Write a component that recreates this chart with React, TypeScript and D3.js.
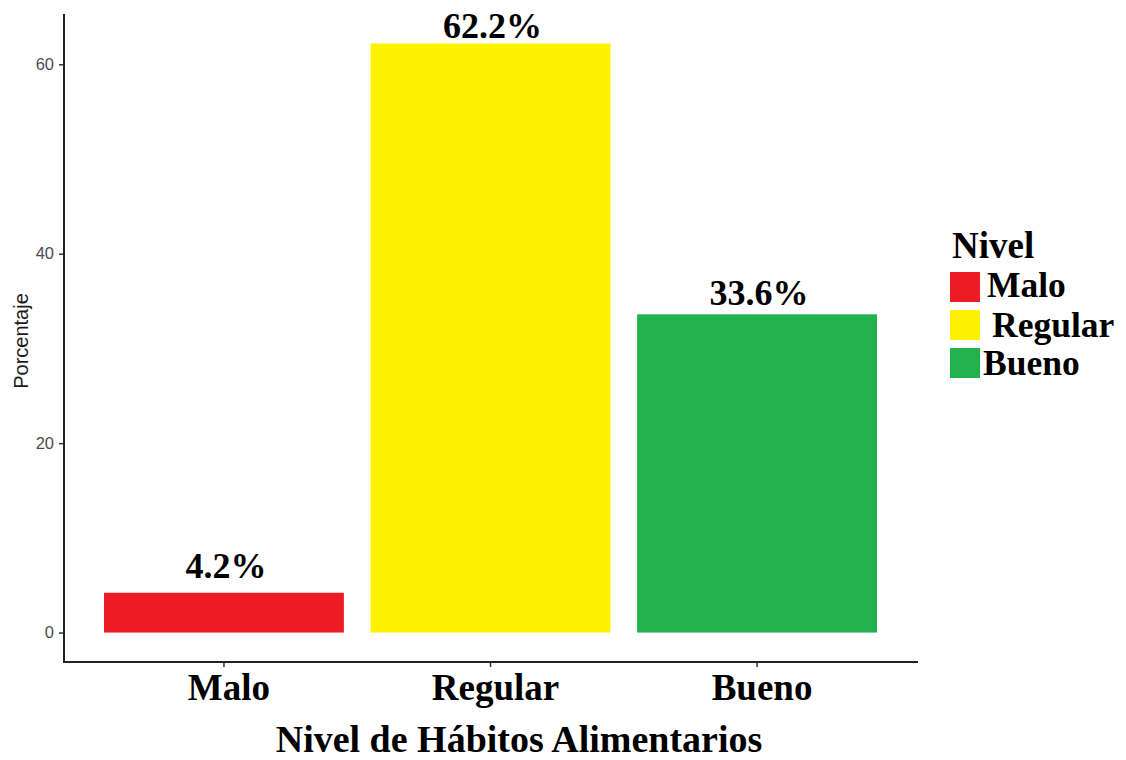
import React, { useEffect, useRef } from 'react';
import * as d3 from 'd3';

const categories = ['Malo', 'Regular', 'Bueno'];
const percentages = [4.2, 62.2, 33.6];
const barColors = ['#ED1C24', '#FFF200', '#22B14C'];
const yTicks = [0, 20, 40, 60];

const serif = '"Liberation Serif", "Times New Roman", serif';
const sans = '"Liberation Sans", Arial, sans-serif';

function App() {
  const ref = useRef<SVGSVGElement | null>(null);

  useEffect(() => {
    const width = 1126;
    const height = 760;
    const panel = { left: 64, right: 917, top: 14, bottom: 662 };

    const svg = d3.select(ref.current);
    svg.selectAll('*').remove();
    svg.attr('width', width).attr('height', height);

    const x = d3.scaleBand<string>()
      .domain(categories)
      .range([panel.left, panel.right])
      .paddingInner(0.1)
      .paddingOuter(0.15);

    const maxVal = d3.max(percentages) as number;
    const pad = maxVal * 0.05;
    const y = d3.scaleLinear()
      .domain([-pad, maxVal + pad])
      .range([panel.bottom, panel.top]);

    const color = d3.scaleOrdinal<string, string>().domain(categories).range(barColors);

    const data = categories.map((c, i) => ({ cat: c, val: percentages[i] }));

    // bars
    svg.append('g')
      .selectAll('rect')
      .data(data)
      .join('rect')
      .attr('x', (d) => x(d.cat) as number)
      .attr('y', (d) => y(d.val))
      .attr('width', x.bandwidth())
      .attr('height', (d) => y(0) - y(d.val))
      .attr('fill', (d) => color(d.cat));

    // value labels
    svg.append('g')
      .selectAll('text')
      .data(data)
      .join('text')
      .attr('x', (d) => (x(d.cat) as number) + x.bandwidth() / 2 + 2)
      .attr('y', (d) => y(d.val) - (15 - 0.16 * d.val))
      .attr('text-anchor', 'middle')
      .attr('font-family', serif)
      .attr('font-weight', 'bold')
      .attr('font-size', 36)
      .attr('fill', '#000')
      .text((d) => `${d.val.toFixed(1)}%`);

    // y axis
    const yAxis = svg.append('g')
      .attr('transform', `translate(${panel.left},0)`)
      .call(d3.axisLeft(y).tickValues(yTicks).tickSize(5).tickPadding(5).tickSizeOuter(0));
    yAxis.select('.domain').remove();
    yAxis.selectAll('.tick line').attr('stroke', '#333').attr('stroke-width', 1.5);
    yAxis.selectAll('.tick text')
      .attr('fill', '#4D4D4D')
      .attr('font-family', sans)
      .attr('font-size', 16.5);
    svg.append('line')
      .attr('x1', panel.left).attr('x2', panel.left)
      .attr('y1', panel.top).attr('y2', panel.bottom + 1)
      .attr('stroke', '#222').attr('stroke-width', 2);

    // x axis
    const xAxis = svg.append('g')
      .attr('transform', `translate(0,${panel.bottom})`)
      .call(d3.axisBottom(x).tickSize(5).tickPadding(5).tickSizeOuter(0));
    xAxis.select('.domain').remove();
    xAxis.selectAll('.tick line').attr('stroke', '#333').attr('stroke-width', 1.5);
    xAxis.selectAll('.tick text')
      .attr('fill', '#000')
      .attr('font-family', serif)
      .attr('font-weight', 'bold')
      .attr('font-size', 37)
      .attr('dy', null)
      .attr('dx', 5)
      .attr('y', 38);
    svg.append('line')
      .attr('x1', panel.left - 1).attr('x2', panel.right + 1)
      .attr('y1', panel.bottom).attr('y2', panel.bottom)
      .attr('stroke', '#222').attr('stroke-width', 2);

    // axis titles
    svg.append('text')
      .attr('x', 519)
      .attr('y', 752)
      .attr('text-anchor', 'middle')
      .attr('font-family', serif)
      .attr('font-weight', 'bold')
      .attr('font-size', 38)
      .text('Nivel de Hábitos Alimentarios');

    svg.append('text')
      .attr('transform', `translate(28,${(panel.top + panel.bottom) / 2 + 3}) rotate(-90)`)
      .attr('text-anchor', 'middle')
      .attr('font-family', sans)
      .attr('font-size', 20)
      .attr('fill', '#1a1a1a')
      .text('Porcentaje');

    // legend
    const legend = svg.append('g').attr('transform', 'translate(950,0)');
    legend.append('text')
      .attr('x', 2)
      .attr('y', 258)
      .attr('font-family', serif)
      .attr('font-weight', 'bold')
      .attr('font-size', 37)
      .text('Nivel');
    const keyTops = [272, 310, 348];
    const labelX = [37, 42, 33];
    const labelY = [297, 337, 375];
    const items = legend.selectAll('g.item')
      .data(data)
      .join('g')
      .attr('class', 'item');
    items.append('rect')
      .attr('x', 0)
      .attr('y', (_, i) => keyTops[i])
      .attr('width', 30)
      .attr('height', 30)
      .attr('fill', (d) => color(d.cat));
    items.append('text')
      .attr('x', (_, i) => labelX[i])
      .attr('y', (_, i) => labelY[i])
      .attr('font-family', serif)
      .attr('font-weight', 'bold')
      .attr('font-size', 35.5)
      .text((d) => d.cat);
  }, []);

  return (
    <div style={{ position: 'absolute', left: 0, top: 0 }}>
      <svg ref={ref}></svg>
    </div>
  );
}

export default App;
